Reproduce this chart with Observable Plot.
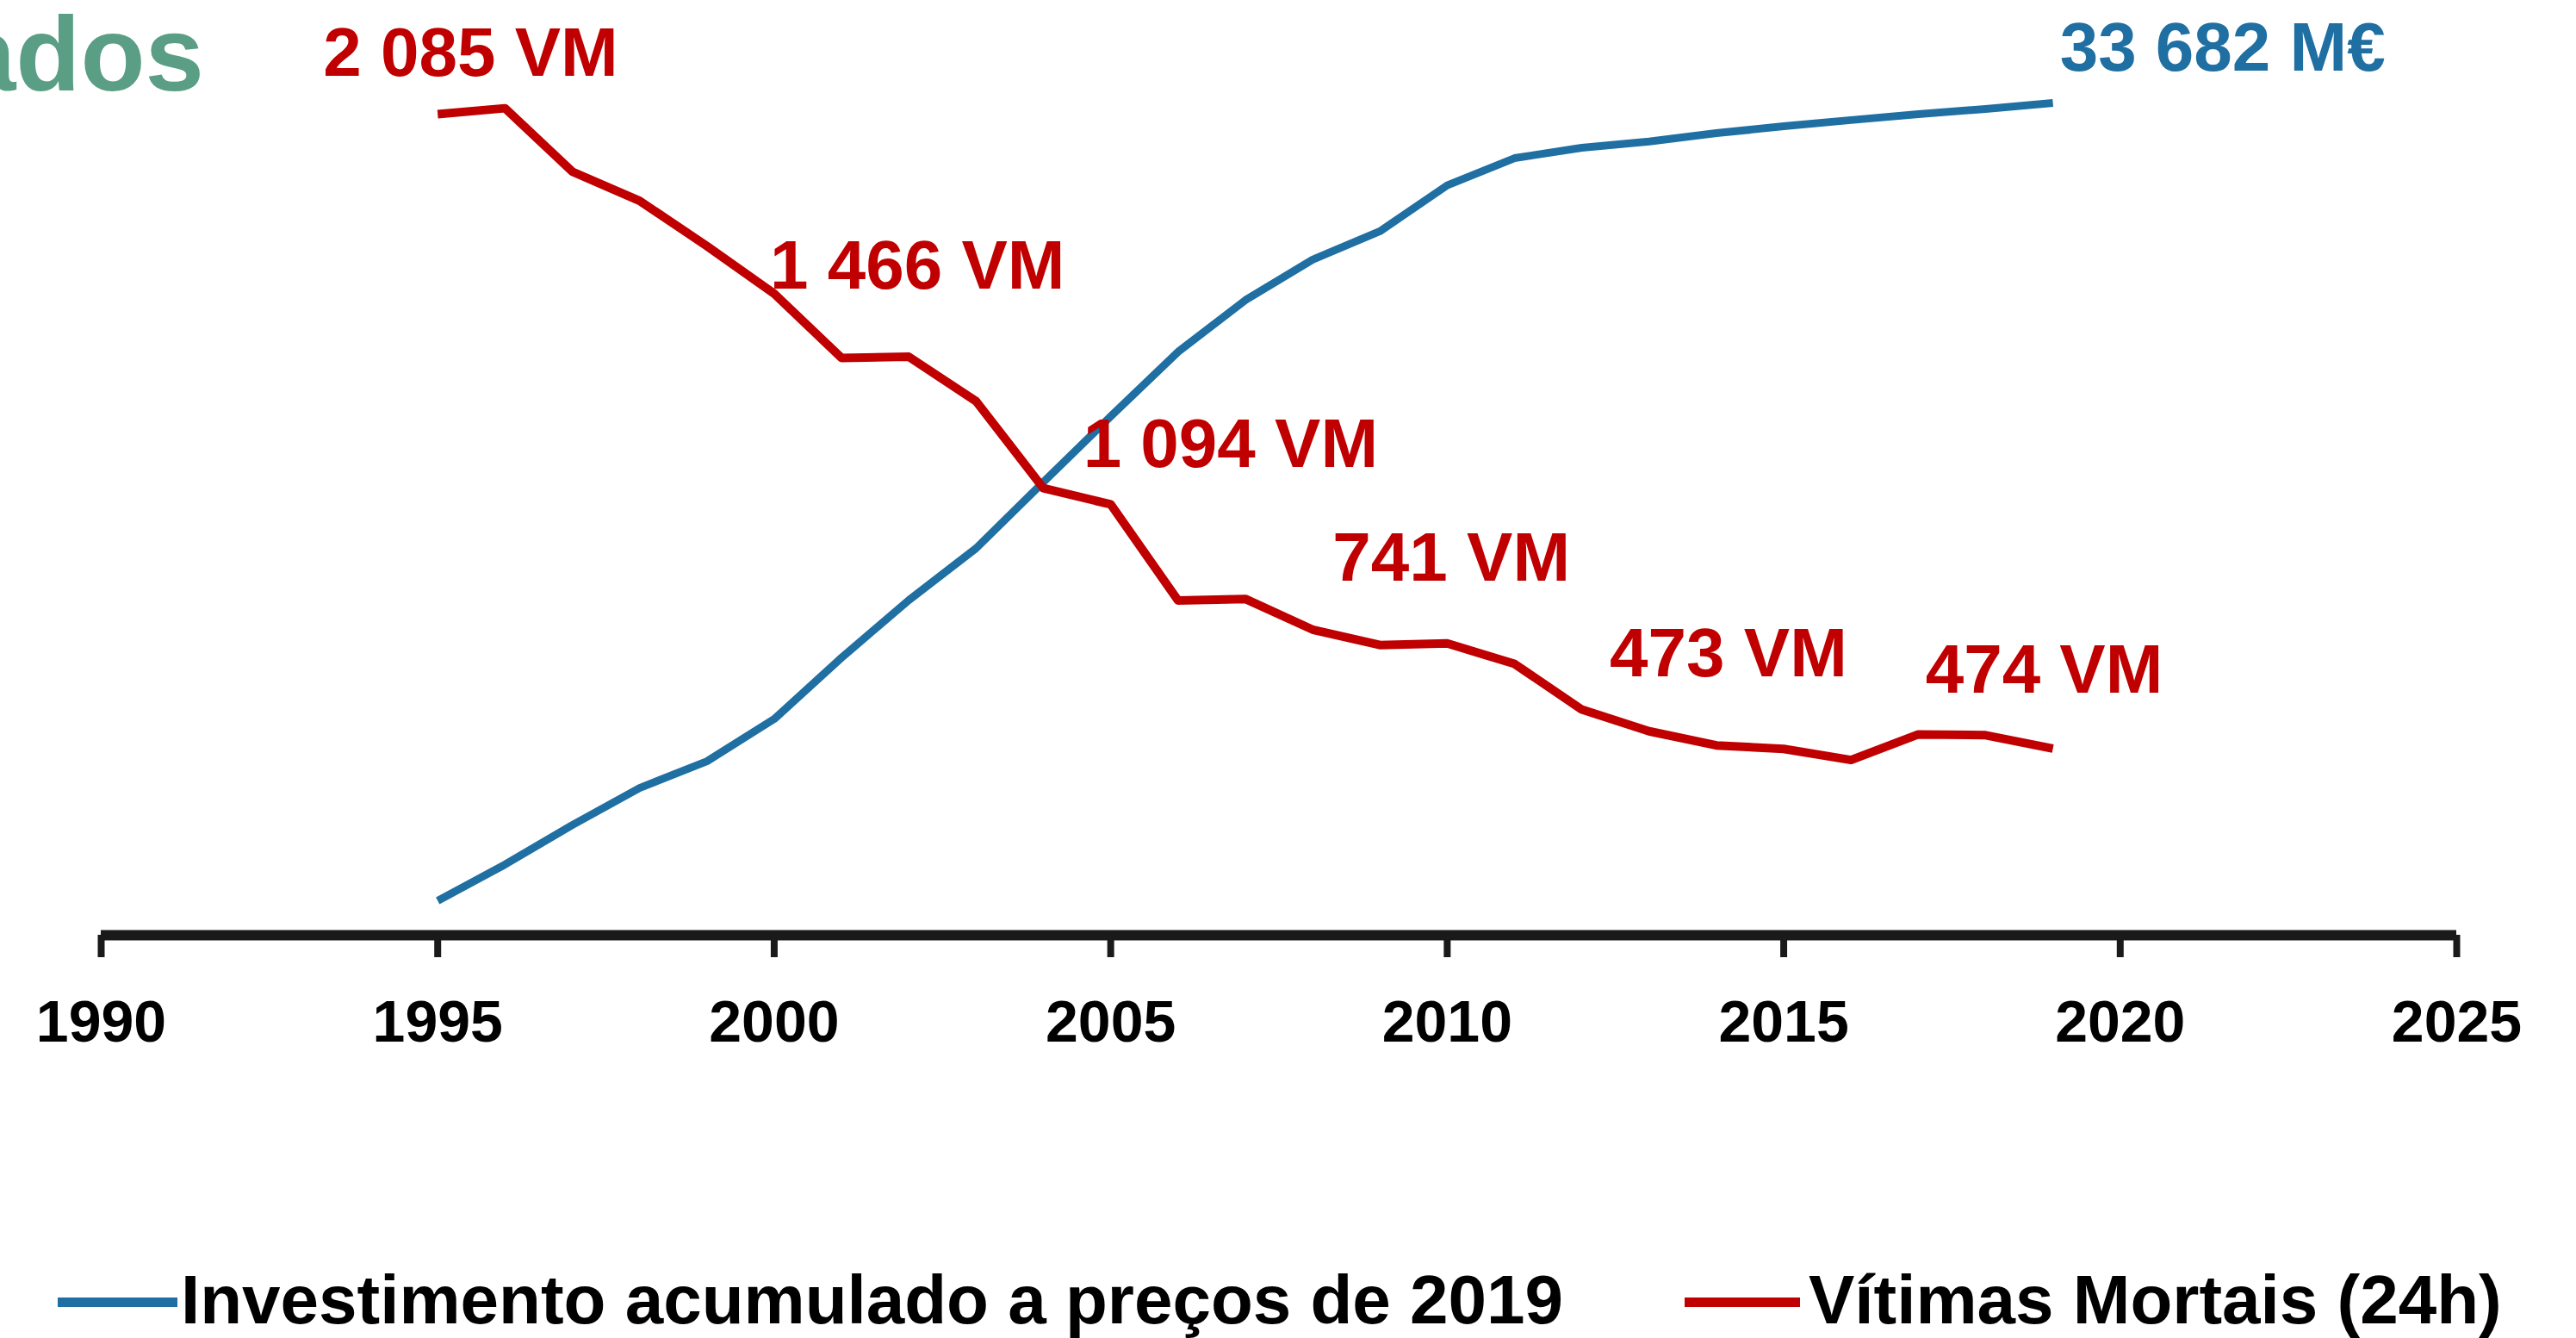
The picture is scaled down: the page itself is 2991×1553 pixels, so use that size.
<!DOCTYPE html>
<html>
<head>
<meta charset="utf-8">
<script src="https://cdn.jsdelivr.net/npm/d3@7"></script>
<script src="https://cdn.jsdelivr.net/npm/@observablehq/plot@0.6"></script>
<style>
html, body { margin: 0; padding: 0; background: #fff; overflow: hidden; }
body { width: 2991px; height: 1553px; position: relative; font-family: "Liberation Sans", Arial, sans-serif; font-weight: bold; }
#title { position: absolute; left: 237px; top: 1px; transform: translateX(-100%); font-size: 123px; line-height: 123px; color: #5b9e86; white-space: nowrap; }
#legend { position: relative; height: 77px; }
.sw { position: absolute; height: 11px; top: 30px; }
.lt { position: absolute; top: -7px; font-size: 80px; line-height: 80px; white-space: nowrap; color: #000; }
</style>
</head>
<body>
<div id="chart"></div>
<div id="legend"></div>
<div id="title">ados</div>
<script>
// ---- data ----
const years = [1995, 1996, 1997, 1998, 1999, 2000, 2001, 2002, 2003, 2004, 2005, 2006, 2007,
               2008, 2009, 2010, 2011, 2012, 2013, 2014, 2015, 2016, 2017, 2018, 2019];
const vitimas = [2085, 2100, 1939, 1865, 1750, 1629, 1466, 1469, 1356, 1135, 1094, 850, 854,
                 776, 737, 741, 689, 573, 518, 482, 473, 445, 510, 508, 474];
const investimento = [1395, 2860, 4460, 5960, 7040, 8750, 11230, 13560, 15660, 18340, 21000, 23610, 25700,
                      27340, 28490, 30350, 31450, 31870, 32120, 32460, 32740, 32990, 33230, 33440, 33682];
const xTicks = [1990, 1995, 2000, 2005, 2010, 2015, 2020, 2025];
const vmLabelYears = [1995, 2001, 2005, 2010, 2015, 2019];
const vmLabelTexts = ["2 085 VM", "1 466 VM", "1 094 VM", "741 VM", "473 VM", "474 VM"];
const invLabelYear = 2019;
const invLabelText = "33 682 M€";
const seriesNames = ["Investimento acumulado a preços de 2019", "Vítimas Mortais (24h)"];
const titleText = "ados";

// ---- styling / layout ----
const colors = ["#1f6fa3", "#c00000"];
const vmMax = 2085;      // left (implicit) axis top
const invMax = 33230;    // right (implicit) axis top, same pixel
const k = vmMax / invMax;
const vmOffsets = [[-133, -45], [-83, -80], [-32, -43], [-133, -73], [-202, -84], [-148, -65]];
const invOffset = [8, -38];

const vmData = years.map((year, i) => ({year, value: vitimas[i]}));
const invData = years.map((year, i) => ({year, value: investimento[i]}));

const labelMarks = vmLabelYears.map((yr, i) => {
  const idx = years.indexOf(yr);
  return Plot.text([{year: yr, value: vitimas[idx], text: vmLabelTexts[i]}], {
    x: "year", y: "value", text: "text",
    dx: vmOffsets[i][0], dy: vmOffsets[i][1],
    textAnchor: "start", lineAnchor: "bottom",
    fill: colors[1], fontSize: 80, fontWeight: "bold"
  });
});
const invIdx = years.indexOf(invLabelYear);
labelMarks.push(Plot.text([{year: invLabelYear, value: investimento[invIdx], text: invLabelText}], {
  x: "year", y: d => d.value * k, text: "text",
  dx: invOffset[0], dy: invOffset[1],
  textAnchor: "start", lineAnchor: "bottom",
  fill: colors[0], fontSize: 80, fontWeight: "bold"
}));

const chart = Plot.plot({
  width: 2991,
  height: 1476,
  marginLeft: 117,
  marginRight: 139,
  marginTop: 132,
  marginBottom: 391,
  x: {domain: [1990, 2025]},
  y: {domain: [0, vmMax], axis: null},
  style: {fontFamily: "'Liberation Sans', Arial, sans-serif", fontWeight: "bold", background: "#fff", color: "#000", overflow: "visible"},
  marks: [
    Plot.ruleY([0], {stroke: "#1a1a1a", strokeWidth: 12}),
    Plot.axisX(xTicks, {
      tickSize: 26, tickPadding: 49, strokeWidth: 8, stroke: "#1a1a1a",
      fill: "#000", fontSize: 68, fontWeight: "bold", label: null,
      tickFormat: d => String(d)
    }),
    Plot.lineY(invData, {x: "year", y: d => d.value * k, stroke: colors[0], strokeWidth: 9, strokeLinejoin: "round", strokeLinecap: "butt"}),
    Plot.lineY(vmData, {x: "year", y: "value", stroke: colors[1], strokeWidth: 10, strokeLinejoin: "round", strokeLinecap: "butt"}),
    ...labelMarks
  ]
});
document.getElementById("chart").appendChild(chart);
document.getElementById("title").textContent = titleText;

// legend
const legend = document.getElementById("legend");
const legendLayout = [{sw: 67, sww: 139, tx: 210}, {sw: 1956, sww: 134, tx: 2100}];
seriesNames.forEach((name, i) => {
  const sw = document.createElement("div");
  sw.className = "sw";
  sw.style.left = legendLayout[i].sw + "px";
  sw.style.width = legendLayout[i].sww + "px";
  sw.style.background = colors[i];
  legend.appendChild(sw);
  const t = document.createElement("div");
  t.className = "lt";
  t.style.left = legendLayout[i].tx + "px";
  t.textContent = name;
  legend.appendChild(t);
});
</script>
</body>
</html>
